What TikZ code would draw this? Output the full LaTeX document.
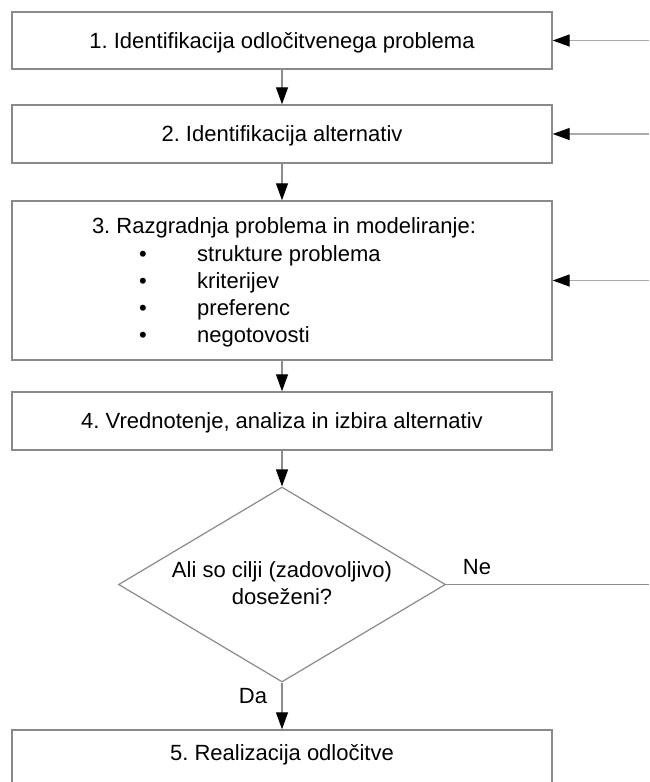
\documentclass[tikz,border=0pt]{standalone}
\usepackage{fontspec}
\setmainfont{Liberation Sans}
\usetikzlibrary{shapes.geometric,arrows.meta}
\definecolor{boxgray}{HTML}{8A8A8A}
\definecolor{linegray}{HTML}{8C8C8C}
\definecolor{ingray}{HTML}{ABABAB}
\frenchspacing
\begin{document}
\begin{tikzpicture}[x=1pt,y=1pt,
  every node/.style={font=\fontsize{22}{27}\selectfont},
  box/.style={draw=boxgray, line width=1.4pt, minimum width=540pt, inner sep=0pt, text height=15.75pt, text depth=0pt},
  dec/.style={draw=boxgray, line width=1.2pt, shape=diamond, minimum width=327pt, minimum height=195pt, inner sep=0pt},
  flow/.style={draw=linegray, line width=1.2pt, -{Triangle[length=17pt,width=12pt,color=black]}},
  inflow/.style={draw=ingray, line width=1.4pt, -{Triangle[length=17pt,width=12pt,color=black]}},
  plain/.style={draw=linegray, line width=1.2pt},
  txt/.style={inner sep=0pt}
]
\useasboundingbox (0,0) rectangle (649,-782);
\clip (0,0) rectangle (649,-782);

\node[box, minimum height=57pt] (b1) at (282,-40.5) {\frenchspacing 1. Identifikacija odločitvenega problema};
\node[box, minimum height=58pt] (b2) at (282,-134) {\frenchspacing 2. Identifikacija alternativ};
\node[box, minimum height=159pt] (b3) at (282,-280.5) {};
\node[box, minimum height=58pt] (b4) at (282,-421) {\frenchspacing 4. Vrednotenje, analiza in izbira alternativ};
\node[dec] (d) at (282,-584.5) {};
\node[box, minimum height=60pt] (b5) at (282,-760) {};

% box 3 content
\node[txt, anchor=base] (t3) at (284,-233) {\frenchspacing 3. Razgradnja problema in modeliranje:};
\node[txt, anchor=base] (u1) at (143,-261) {•};
\node[txt, anchor=base] (u2) at (143,-288) {•};
\node[txt, anchor=base] (u3) at (143,-315) {•};
\node[txt, anchor=base] (u4) at (143,-342) {•};
\node[txt, anchor=base west] (i1) at (197,-261) {strukture problema};
\node[txt, anchor=base west] (i2) at (197,-288) {kriterijev};
\node[txt, anchor=base west] (i3) at (197,-315) {preferenc};
\node[txt, anchor=base west] (i4) at (197,-342) {negotovosti};

% diamond text
\node[txt, align=center] (dt) at (282,-583) {Ali so cilji (zadovoljivo)\\doseženi?};

% box 5 text
\node[txt, anchor=base] (t5) at (282,-760) {\frenchspacing 5. Realizacija odločitve};

% labels
\node[txt] (ne) at (477,-567) {Ne};
\node[txt] (da) at (253,-696) {Da};

% flow arrows
\draw[flow] (b1.south) -- (b2.north);
\draw[flow] (b2.south) -- (b3.north);
\draw[flow] (b3.south) -- (b4.north);
\draw[flow] (b4.south) -- (d.north);
\draw[flow] (d.south) -- (b5.north);

% inputs from right
\coordinate (r1) at (649,-40.5);
\coordinate (r2) at (649,-134);
\coordinate (r3) at (649,-280.5);
\coordinate (r4) at (649,-584.5);
\draw[inflow] (r1) -- (b1.east);
\draw[inflow] (r2) -- (b2.east);
\draw[inflow] (r3) -- (b3.east);
\draw[plain] (d.east) -- (r4);
\end{tikzpicture}
\end{document}
